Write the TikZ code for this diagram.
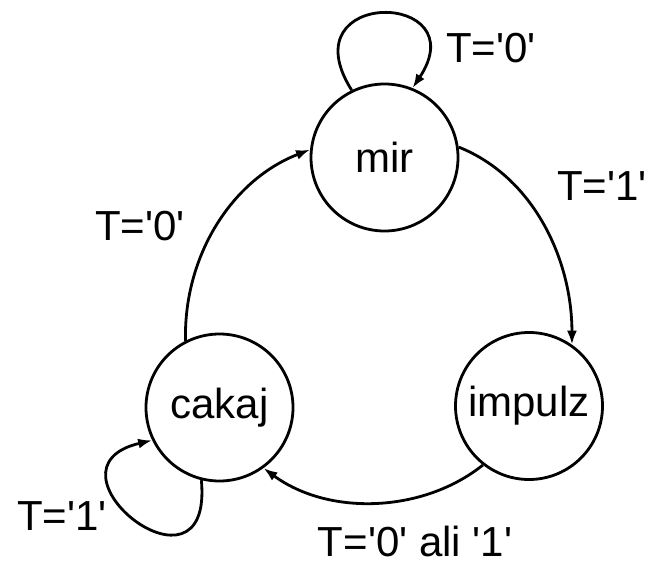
\documentclass[tikz,border=0pt]{standalone}
\usepackage{fontspec}
\setmainfont{Liberation Sans}
\usetikzlibrary{arrows.meta}
\newcommand{\sq}{\textquotesingle}
\begin{document}
\begin{tikzpicture}[x=0.5pt,y=-0.5pt,
  state/.style={circle,draw,line width=1.4pt,minimum size=73.5pt,inner sep=0pt,font=\fontsize{21}{25}\selectfont},
  lbl/.style={inner sep=0pt,font=\fontsize{21}{25}\selectfont},
  edge/.style={line width=1.4pt,-{Latex[length=7pt,width=5pt]}}]
\useasboundingbox (0,0) rectangle (648,562);
\node[state] (mir) at (384.5,157.5) {mir};
\node[state] (impulz) at (529,406) {impulz};
\node[state] (cakaj) at (219.5,407.5) {cakaj};
\draw[edge] (mir.116) .. controls +(-65,-103) and +(65,-98) .. (mir.68);
\draw[edge] (mir.8) .. controls +(75,30) and +(0,-85) .. (impulz.55);
\draw[edge] (impulz.232) .. controls +(-60,48) and +(65,48) .. (cakaj.306);
\draw[edge] (cakaj.256) .. controls +(12,132) and +(-120,28) .. (cakaj.206);
\draw[edge] (cakaj.117) .. controls +(-2,-85) and +(-78,30) .. (mir.174);
\node[lbl] (l1) at (491,48) {T=\sq0\sq};
\node[lbl] (l2) at (602,186) {T=\sq1\sq};
\node[lbl] (l3) at (140,226) {T=\sq0\sq};
\node[lbl] (l4) at (62,516) {T=\sq1\sq};
\node[lbl] (l5) at (415,541) {T=\sq0\sq{} ali \sq1\sq};
\end{tikzpicture}
\end{document}
